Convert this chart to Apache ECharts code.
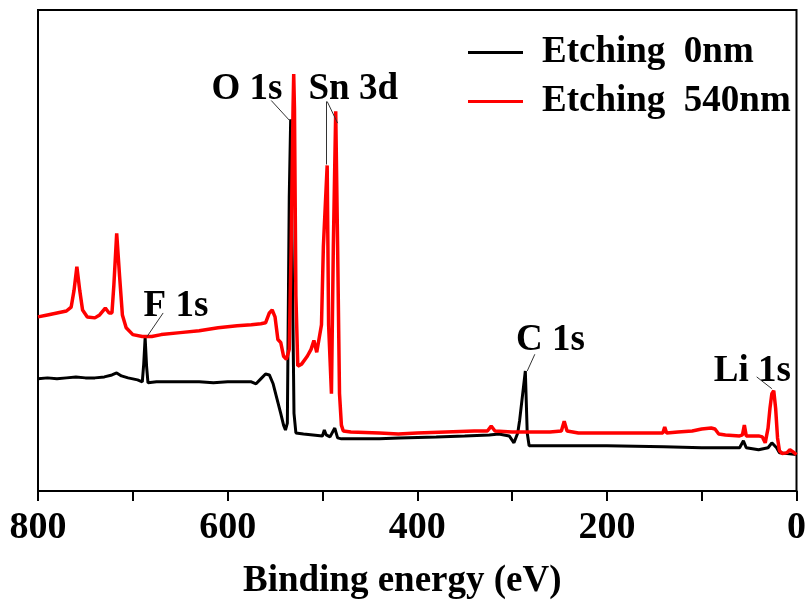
<!DOCTYPE html>
<html>
<head>
<meta charset="utf-8">
<script src="https://cdn.jsdelivr.net/npm/echarts@6/dist/echarts.min.js"></script>
<style>
  html, body { margin: 0; padding: 0; background: #fff; }
  #chart { width: 809px; height: 605px; }
</style>
</head>
<body>
<div id="chart"></div>
<script>
// XPS survey spectra: binding energy (eV) vs. intensity (a.u.)
const seriesNames = ['Etching  0nm', 'Etching  540nm'];

const blackEnergy = [800, 790, 780, 770, 760, 750, 740, 730, 722, 717, 712, 705, 695, 690, 688.5, 687, 685.5, 684,
  675, 660, 645, 630, 615, 600, 585, 575, 570, 565, 560, 556, 552, 548, 544, 541, 539, 537, 535, 533.5, 532, 530, 528,
  520, 510, 500, 498, 496, 492, 487, 484, 480, 460, 440, 419, 380, 350, 324, 314, 303, 298, 294, 292, 290, 286, 284,
  282, 250, 200, 140, 100, 60, 56, 53, 40, 30, 26, 24, 21, 18, 10, 0];
const blackIntensity = [114, 115, 114, 115, 116, 115, 115, 116, 118, 120, 117, 115, 113, 111, 129, 156, 127, 110,
  111, 111, 111, 111, 110, 111, 111, 111, 109, 114, 119, 118, 109, 94, 79, 67, 62, 69, 299, 378, 249, 79, 59,
  58, 57, 56, 62, 57, 55, 64, 54, 53, 53, 53, 54, 55, 56, 57, 58, 56, 49, 59, 72, 74, 122, 59,
  46, 46, 46, 45, 44, 44, 51, 44, 42, 44, 49, 51, 44, 39, 38, 37];

const redEnergy = [800, 790, 780, 770, 765, 762, 759, 756, 753, 748, 740, 735, 729, 725, 722, 720, 717, 714, 711, 707,
  700, 690, 680, 670, 650, 630, 610, 590, 575, 565, 560, 556, 553, 550, 547, 544, 541, 538, 535, 533, 531, 530.3, 529.5,
  528, 526, 522, 516, 512, 509, 506, 504, 501, 499, 495, 493.5, 490.5, 488.5, 486, 484, 482, 480, 478, 470, 440, 420,
  400, 370, 340, 326, 322, 318, 300, 260, 248, 245, 242, 230, 200, 170, 141, 139, 137, 125, 110, 100, 90, 86, 82,
  75, 60, 57, 55, 53, 45, 40, 36, 33, 30, 28, 26, 24, 22, 20, 18, 15, 10, 7, 4, 0];
const redIntensity = [177, 179, 181, 183, 187, 204, 228, 204, 184, 177, 176, 179, 186, 181, 181, 209, 262, 219, 179, 166,
  159, 157, 157, 159, 161, 163, 166, 168, 169, 170, 171, 181, 184, 177, 154, 151, 137, 134, 144, 249, 389, 424, 389,
  199, 127, 129, 137, 144, 153, 141, 139, 169, 249, 331, 169, 99, 249, 386, 249, 99, 67, 61, 60, 59, 58,
  59, 60, 61, 61, 66, 61, 60, 60, 61, 71, 61, 59, 59, 59, 59, 65, 59, 60, 61, 63, 64, 63, 58,
  57, 56, 57, 67, 56, 56, 56, 55, 49, 64, 84, 99, 102, 84, 54, 41, 38, 39, 42, 40, 37];

// Peak assignments: label anchor (eV, a.u.) and leader lines
const peakLabels = ['O 1s', 'Sn 3d', 'F 1s', 'C 1s', 'Li 1s'];
const labelEnergy = [579, 467, 654, 259, 46];
const labelIntensity = [408, 408, 187, 153, 121];
const leaderStart = [[554, 397], [496, 396], [495, 396], [668, 181], [276, 139], [42, 116]];
const leaderEnd = [[535, 377], [496, 332], [484, 374], [685, 157], [284, 122], [26, 104]];

const FONT = '"Times New Roman", "Liberation Serif", serif';
const zip = (xs, ys) => xs.map((x, i) => [x, ys[i]]);

const chart = echarts.init(document.getElementById('chart'), null, { renderer: 'canvas' });
chart.setOption({
  animation: false,
  backgroundColor: '#fff',
  grid: { left: 38, right: 11, top: 10, bottom: 106, show: true, borderColor: '#000', borderWidth: 2 },
  legend: {
    data: seriesNames,
    orient: 'vertical',
    left: 468,
    top: 34,
    padding: 0,
    icon: 'rect',
    itemWidth: 55,
    itemHeight: 3,
    itemGap: 12,
    textStyle: { fontFamily: FONT, fontSize: 37, fontWeight: 'bold', color: '#000', padding: [0, 0, 0, 14] }
  },
  xAxis: {
    type: 'value',
    min: 0,
    max: 800,
    interval: 200,
    inverse: true,
    name: 'Binding energy (eV)',
    nameLocation: 'middle',
    nameGap: 72,
    nameTextStyle: { fontFamily: FONT, fontSize: 37, fontWeight: 'bold', color: '#000', padding: [0, 30, 0, 0] },
    axisLine: { lineStyle: { color: '#000', width: 2 } },
    axisTick: { length: 10, lineStyle: { color: '#000', width: 2 } },
    minorTick: { show: true, splitNumber: 2, length: 10, lineStyle: { color: '#000', width: 2 } },
    splitLine: { show: false },
    minorSplitLine: { show: false },
    axisLabel: { fontFamily: FONT, fontSize: 38, fontWeight: 'bold', color: '#000', margin: 18 }
  },
  yAxis: { type: 'value', min: 0, max: 489, show: false },
  series: [
    {
      name: seriesNames[0],
      type: 'line',
      data: zip(blackEnergy, blackIntensity),
      showSymbol: false,
      symbol: 'none',
      color: '#000',
      lineStyle: { color: '#000', width: 3 }
    },
    {
      name: seriesNames[1],
      type: 'line',
      data: zip(redEnergy, redIntensity),
      showSymbol: false,
      symbol: 'none',
      color: '#ff0000',
      lineStyle: { color: '#ff0000', width: 3.5 }
    },
    {
      name: 'peaks',
      type: 'scatter',
      silent: true,
      symbolSize: 1,
      itemStyle: { color: 'rgba(255,255,255,0)' },
      data: peakLabels.map((t, i) => ({ name: t, value: [labelEnergy[i], labelIntensity[i]] })),
      label: {
        show: true,
        position: [0, 0],
        align: 'center',
        verticalAlign: 'middle',
        formatter: '{b}',
        fontFamily: FONT,
        fontSize: 37,
        fontWeight: 'bold',
        color: '#000',
        textBorderWidth: 0,
        opacity: 1
      },
      markLine: {
        silent: true,
        symbol: ['none', 'none'],
        label: { show: false },
        lineStyle: { color: '#333', width: 1, type: 'solid', opacity: 1 },
        data: leaderStart.map((s, i) => [{ coord: s }, { coord: leaderEnd[i] }])
      }
    }
  ]
});
</script>
</body>
</html>
